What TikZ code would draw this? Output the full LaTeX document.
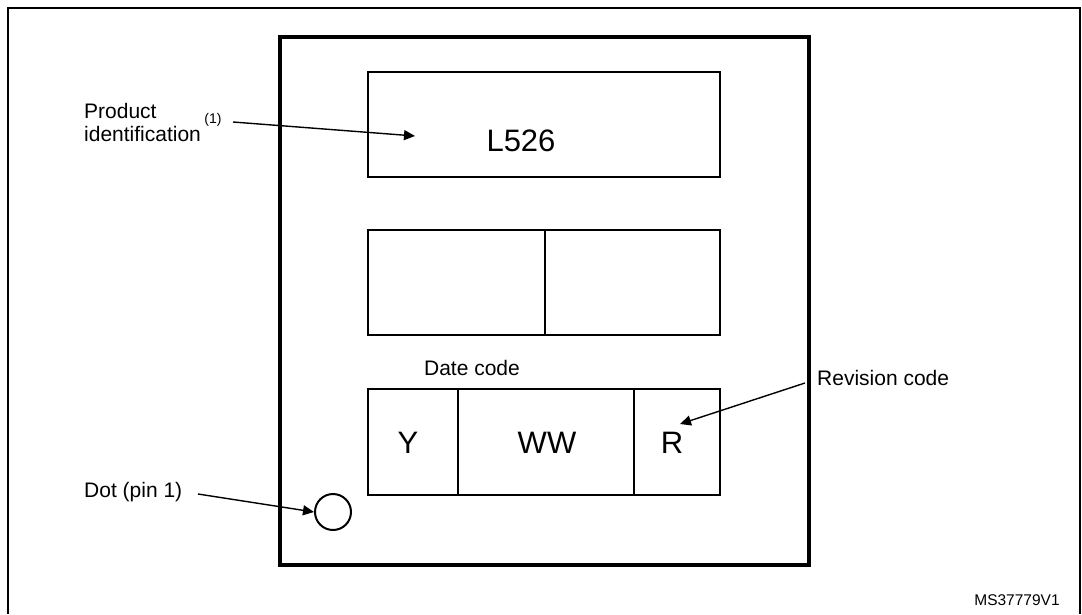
\documentclass[tikz,border=0pt]{standalone}
\usepackage{fontspec}
\setmainfont{Liberation Sans}
\usetikzlibrary{arrows.meta}
\begin{document}
\begin{tikzpicture}[x=1pt,y=-1pt,
  pkg/.style={line width=3.8pt},
  cell/.style={line width=2.8pt},
  lbl/.style={font=\fontsize{21}{23}\selectfont, inner sep=0pt},
  big/.style={font=\fontsize{31}{33}\selectfont, inner sep=0pt},
  ptr/.style={line width=1.4pt, -{Triangle[length=11pt,width=10pt]}}]
\useasboundingbox (0,0) rectangle (1082,614);
% outer frame (open at bottom)
\draw[line width=2.4pt] (8,614) -- (8,8) -- (1080,8) -- (1080,614);
% package outline
\draw[pkg] (280,37) rectangle (809,565);
% top box
\node[draw, cell, minimum width=352pt, minimum height=105pt, inner sep=0pt] (top) at (544,124.5) {};
\node[big] (l526) at (521,141) {L526};
% middle box
\node[draw, cell, minimum width=352pt, minimum height=105pt, inner sep=0pt] (mid) at (544,282.5) {};
\draw[cell] (mid.north) ++(1,0) coordinate (md1) -- (mid.south -| md1);
% bottom box
\node[draw, cell, minimum width=352pt, minimum height=106pt, inner sep=0pt] (bot) at (544,442) {};
\coordinate (d1) at (458,389);
\coordinate (d2) at (634,389);
\draw[cell] (d1) -- (d1 |- bot.south);
\draw[cell] (d2) -- (d2 |- bot.south);
\node[big] (y) at (408,443) {Y};
\node[big] (ww) at (547,443) {WW};
\node[big] (r) at (672,443) {R};
\node[lbl] (date) at (472,368) {Date code};
% dot
\node[draw, circle, line width=2pt, minimum size=36pt, inner sep=0pt] (dot) at (333,512) {};
% labels
\node[lbl, anchor=west, align=left] (prod) at (84,122) {Product\\identification};
\node[font=\fontsize{14}{16}\selectfont, inner sep=0pt] (fn) at (213,120) {(1)};
\node[lbl, anchor=west] (rev) at (817,378) {Revision code};
\node[lbl, anchor=west] (dotl) at (84,492) {Dot (pin 1)};
\node[font=\fontsize{15.5}{17}\selectfont, inner sep=0pt] (ms) at (1017,600) {MS37779V1};
% arrows
\coordinate (pa) at (233,122);
\coordinate (pb) at (415,136);
\draw[ptr] (pa) -- (pb);
\coordinate (ra) at (805,383);
\coordinate (rb) at (680,424);
\draw[ptr] (ra) -- (rb);
\coordinate (da) at (198,494);
\draw[ptr] (da) -- (dot.west);
\end{tikzpicture}
\end{document}
